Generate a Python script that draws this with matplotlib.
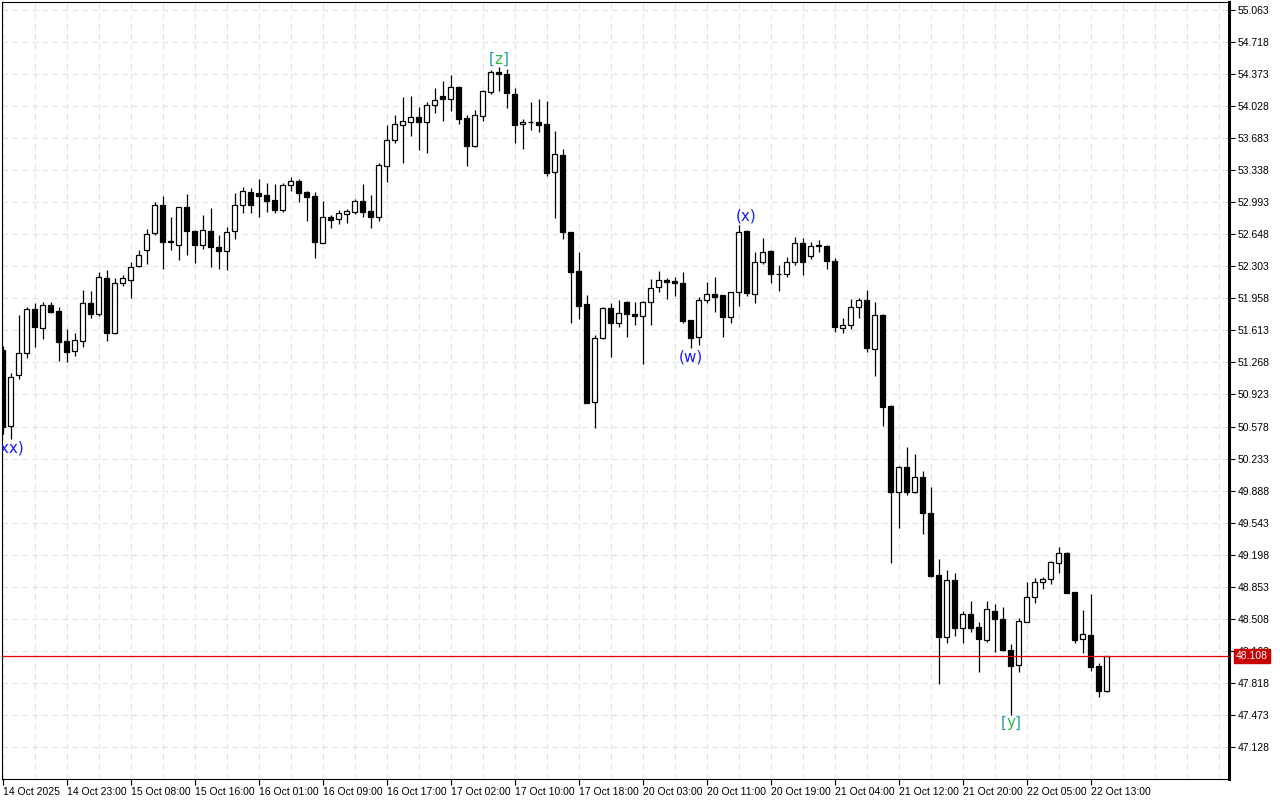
import matplotlib
matplotlib.use('Agg')
import matplotlib.pyplot as plt
import matplotlib.transforms as mtransforms
import numpy as np


# hourly OHLC (one value per bar, oldest first)
opens = [51.402, 50.584, 51.130, 51.367, 51.840, 51.636, 51.883, 51.822, 51.499, 51.388,
         51.502, 51.905, 51.787, 52.178, 51.582, 52.127, 52.156, 52.307, 52.479, 52.659,
         52.960, 52.576, 52.530, 52.939, 52.684, 52.530, 52.684, 52.508, 52.468, 52.680,
         52.960, 53.100, 53.089, 53.071, 53.017, 52.910, 53.176, 53.222, 53.103, 53.060,
         52.558, 52.831, 52.809, 52.870, 52.891, 53.007, 52.899, 52.838, 53.387, 53.663,
         53.828, 53.860, 53.911, 53.854, 54.037, 54.134, 54.108, 54.234, 53.897, 53.599,
         53.925, 54.183, 54.395, 54.371, 54.159, 53.832, 53.855, 53.857, 53.832, 53.316,
         53.502, 52.669, 52.253, 51.894, 50.839, 51.528, 51.851, 51.690, 51.916, 51.790,
         51.772, 51.916, 52.077, 52.153, 52.145, 52.120, 51.725, 51.539, 51.941, 52.002,
         51.994, 51.761, 52.023, 52.684, 52.002, 52.347, 52.468, 52.225, 52.221, 52.347,
         52.551, 52.418, 52.530, 52.519, 52.364, 51.636, 51.668, 51.862, 51.941, 51.410,
         51.779, 50.799, 49.877, 50.139, 49.870, 50.038, 49.644, 48.980, 48.315, 48.926,
         48.412, 48.560, 48.416, 48.280, 48.592, 48.503, 48.172, 48.014, 48.477, 48.740,
         48.907, 48.933, 49.106, 49.213, 48.793, 48.287, 48.334, 47.999, 47.734]
highs = [51.450, 51.158, 51.779, 51.868, 51.905, 51.916, 51.916, 51.862, 51.625, 51.582,
         52.048, 52.037, 52.242, 52.264, 52.178, 52.210, 52.350, 52.479, 52.702, 52.993,
         53.064, 52.831, 52.945, 53.082, 52.690, 52.856, 52.928, 52.637, 52.723, 53.089,
         53.154, 53.143, 53.240, 53.197, 53.190, 53.197, 53.262, 53.243, 53.114, 53.103,
         53.007, 52.856, 52.910, 52.924, 53.025, 53.190, 53.071, 53.412, 53.825, 53.932,
         54.130, 54.137, 54.022, 54.072, 54.220, 54.295, 54.363, 54.245, 53.929, 53.986,
         54.202, 54.417, 54.453, 54.425, 54.220, 53.886, 54.072, 54.102, 54.083, 53.760,
         53.566, 52.669, 52.457, 51.991, 51.564, 51.862, 51.905, 51.941, 51.930, 51.922,
         51.933, 52.167, 52.253, 52.174, 52.192, 52.245, 51.725, 51.976, 52.138, 52.185,
         51.994, 52.030, 52.748, 52.690, 52.454, 52.605, 52.475, 52.317, 52.407, 52.616,
         52.605, 52.568, 52.587, 52.530, 52.390, 51.744, 51.948, 51.959, 52.048, 51.919,
         51.785, 50.810, 50.157, 50.361, 50.283, 50.103, 49.924, 49.149, 49.034, 48.998,
         48.592, 48.700, 48.477, 48.700, 48.667, 48.632, 48.237, 48.513, 48.907, 48.944,
         48.961, 49.134, 49.284, 49.224, 48.800, 48.603, 48.772, 48.035, 48.108]
lows = [50.500, 50.441, 51.087, 51.319, 51.438, 51.521, 51.804, 51.287, 51.276, 51.338,
        51.438, 51.744, 51.768, 51.502, 51.574, 52.091, 51.962, 52.293, 52.328, 52.641,
        52.271, 52.479, 52.371, 52.422, 52.336, 52.486, 52.299, 52.271, 52.264, 52.594,
        52.874, 52.874, 52.831, 52.891, 52.880, 52.891, 53.117, 52.999, 52.794, 52.396,
        52.551, 52.713, 52.756, 52.773, 52.863, 52.838, 52.719, 52.791, 53.214, 53.628,
        53.419, 53.706, 53.556, 53.527, 53.957, 53.871, 53.979, 53.832, 53.387, 53.591,
        53.871, 54.159, 54.194, 54.005, 53.634, 53.563, 53.771, 53.753, 53.279, 52.827,
        52.597, 51.696, 51.736, 50.828, 50.559, 51.517, 51.324, 51.653, 51.545, 51.671,
        51.248, 51.671, 52.030, 51.951, 51.987, 51.696, 51.427, 51.456, 51.905, 51.815,
        51.545, 51.690, 51.876, 51.984, 51.905, 52.328, 52.120, 52.041, 52.192, 52.317,
        52.210, 52.379, 52.461, 52.274, 51.593, 51.582, 51.625, 51.744, 51.381, 51.126,
        50.587, 49.112, 49.489, 49.841, 49.865, 49.421, 48.961, 47.806, 48.251, 48.326,
        48.251, 48.363, 47.938, 48.262, 48.154, 48.165, 47.472, 47.938, 48.470, 48.675,
        48.829, 48.883, 48.998, 48.782, 48.251, 48.143, 47.949, 47.669, 47.723]
closes = [50.573, 51.115, 51.367, 51.840, 51.647, 51.883, 51.815, 51.492, 51.384, 51.507,
          51.905, 51.787, 52.188, 51.582, 52.127, 52.178, 52.296, 52.425, 52.651, 52.960,
          52.562, 52.562, 52.939, 52.680, 52.530, 52.691, 52.508, 52.465, 52.676, 52.960,
          53.117, 52.960, 53.064, 53.010, 52.910, 53.176, 53.219, 53.096, 53.053, 52.568,
          52.831, 52.802, 52.874, 52.896, 53.003, 52.891, 52.838, 53.394, 53.663, 53.832,
          53.868, 53.908, 53.854, 54.037, 54.091, 54.108, 54.231, 53.889, 53.602, 53.929,
          54.191, 54.392, 54.371, 54.166, 53.828, 53.860, 53.852, 53.828, 53.311, 53.509,
          52.676, 52.245, 51.879, 50.835, 51.528, 51.851, 51.690, 51.797, 51.787, 51.772,
          51.916, 52.066, 52.153, 52.138, 52.120, 51.718, 51.528, 51.941, 52.002, 51.976,
          51.761, 52.023, 52.670, 52.013, 52.347, 52.461, 52.221, 52.218, 52.347, 52.551,
          52.353, 52.525, 52.520, 52.364, 51.647, 51.668, 51.862, 51.941, 51.420, 51.779,
          50.792, 49.870, 50.139, 49.870, 50.038, 49.650, 48.972, 48.315, 48.926, 48.412,
          48.560, 48.412, 48.287, 48.610, 48.503, 48.172, 48.003, 48.484, 48.740, 48.907,
          48.933, 49.116, 49.213, 48.789, 48.280, 48.341, 47.986, 47.734, 48.108]

time_labels = ['14 Oct 2025', '14 Oct 23:00', '15 Oct 08:00', '15 Oct 16:00', '16 Oct 01:00',
               '16 Oct 09:00', '16 Oct 17:00', '17 Oct 02:00', '17 Oct 10:00', '17 Oct 18:00',
               '20 Oct 03:00', '20 Oct 11:00', '20 Oct 19:00', '21 Oct 04:00', '21 Oct 12:00',
               '21 Oct 20:00', '22 Oct 05:00', '22 Oct 13:00']
label_step = 8

price_ticks = [55.063, 54.718, 54.373, 54.028, 53.683, 53.338, 52.993, 52.648, 52.303,
               51.958, 51.613, 51.268, 50.923, 50.578, 50.233, 49.888, 49.543, 49.198,
               48.853, 48.508, 48.163, 47.818, 47.473, 47.128]
last_price = 48.108

# wave labels: (text, bar index, price)
wave_labels = [('(w)', 86, 51.327), ('(x)', 93, 52.845)]
bracket_labels = [('z', 62, 54.535), ('y', 126, 47.386)]

axis_font = 'Liberation Sans'

fig = plt.figure(figsize=(12.8, 8), dpi=100)
ax = fig.add_axes([2 / 1280, 21 / 800, 1227 / 1280, 777 / 800])

o = np.array(opens)
h = np.array(highs)
l = np.array(lows)
c = np.array(closes)
x = np.arange(len(o))
up = c >= o

# wicks under the bodies
ax.vlines(x, l, h, color='black', linewidth=0.9, zorder=2)

# bodies: white for up bars, black for down bars
body_low = np.minimum(o, c)
body_h = np.maximum(np.abs(c - o), 0.004)
ax.bar(x[up], body_h[up], bottom=body_low[up], width=0.55, color='white',
       edgecolor='black', linewidth=0.9, zorder=3)
ax.bar(x[~up], body_h[~up], bottom=body_low[~up], width=0.55, color='black',
       edgecolor='black', linewidth=0.9, zorder=3)

# current price line
ax.axhline(last_price, color='#e00000', linewidth=0.9, zorder=4)

ax.set_xlim(-0.0625, 153.31)
ax.set_ylim(46.783, 55.149)

# axis ticks / labels
ax.yaxis.tick_right()
ax.set_yticks(price_ticks)
ax.set_yticklabels(['%.3f' % p for p in price_ticks], family=axis_font)
ax.set_xticks(np.arange(len(time_labels)) * label_step)
ax.set_xticklabels(time_labels, ha='left', family=axis_font)
ax.set_xticks(np.arange(0, 154, 4), minor=True)
ax.tick_params(axis='x', which='major', length=4, width=0.8, pad=2, labelsize=7.5)
ax.tick_params(axis='x', which='minor', length=0)
ax.tick_params(axis='y', length=4, width=0.8, pad=2, labelsize=7.5)

# dashed light grid
ax.grid(True, which='both', axis='x', color='#e2e2e2', linestyle=(0, (5, 4)), linewidth=0.8)
ax.grid(True, which='major', axis='y', color='#e2e2e2', linestyle=(0, (5, 4)), linewidth=0.8)
ax.set_axisbelow(True)

for side in ['left', 'top', 'bottom']:
    ax.spines[side].set_linewidth(0.8)
ax.spines['right'].set_linewidth(2.2)

# price tag for the last price
trans = mtransforms.blended_transform_factory(ax.transAxes, ax.transData)
ax.text(1.0055, last_price, '%.3f' % last_price, transform=trans, ha='left', va='center',
        fontsize=7.5, family=axis_font, color='white', zorder=10, clip_on=False,
        bbox=dict(boxstyle='square,pad=0.2', facecolor='#c80000', edgecolor='#c80000'))

# elliott wave labels
for txt, i, p in wave_labels:
    ax.text(i, p, txt, ha='center', va='center', fontsize=11, color='#1a1aff', zorder=6)
ax.text(2.8, 50.347, '(xx)', ha='right', va='center', fontsize=11, color='#1a1aff',
        zorder=6, clip_on=True)
for txt, i, p in bracket_labels:
    ax.annotate('[', (i, p), xytext=(-3, 0), textcoords='offset points', ha='right',
                va='center', fontsize=11, color='#1f9fb0', zorder=6)
    ax.annotate(']', (i, p), xytext=(3, 0), textcoords='offset points', ha='left',
                va='center', fontsize=11, color='#1f9fb0', zorder=6)
    ax.text(i, p, txt, ha='center', va='center', fontsize=11, color='#2fb84a', zorder=7)

fig.savefig('out.png', dpi=100)
